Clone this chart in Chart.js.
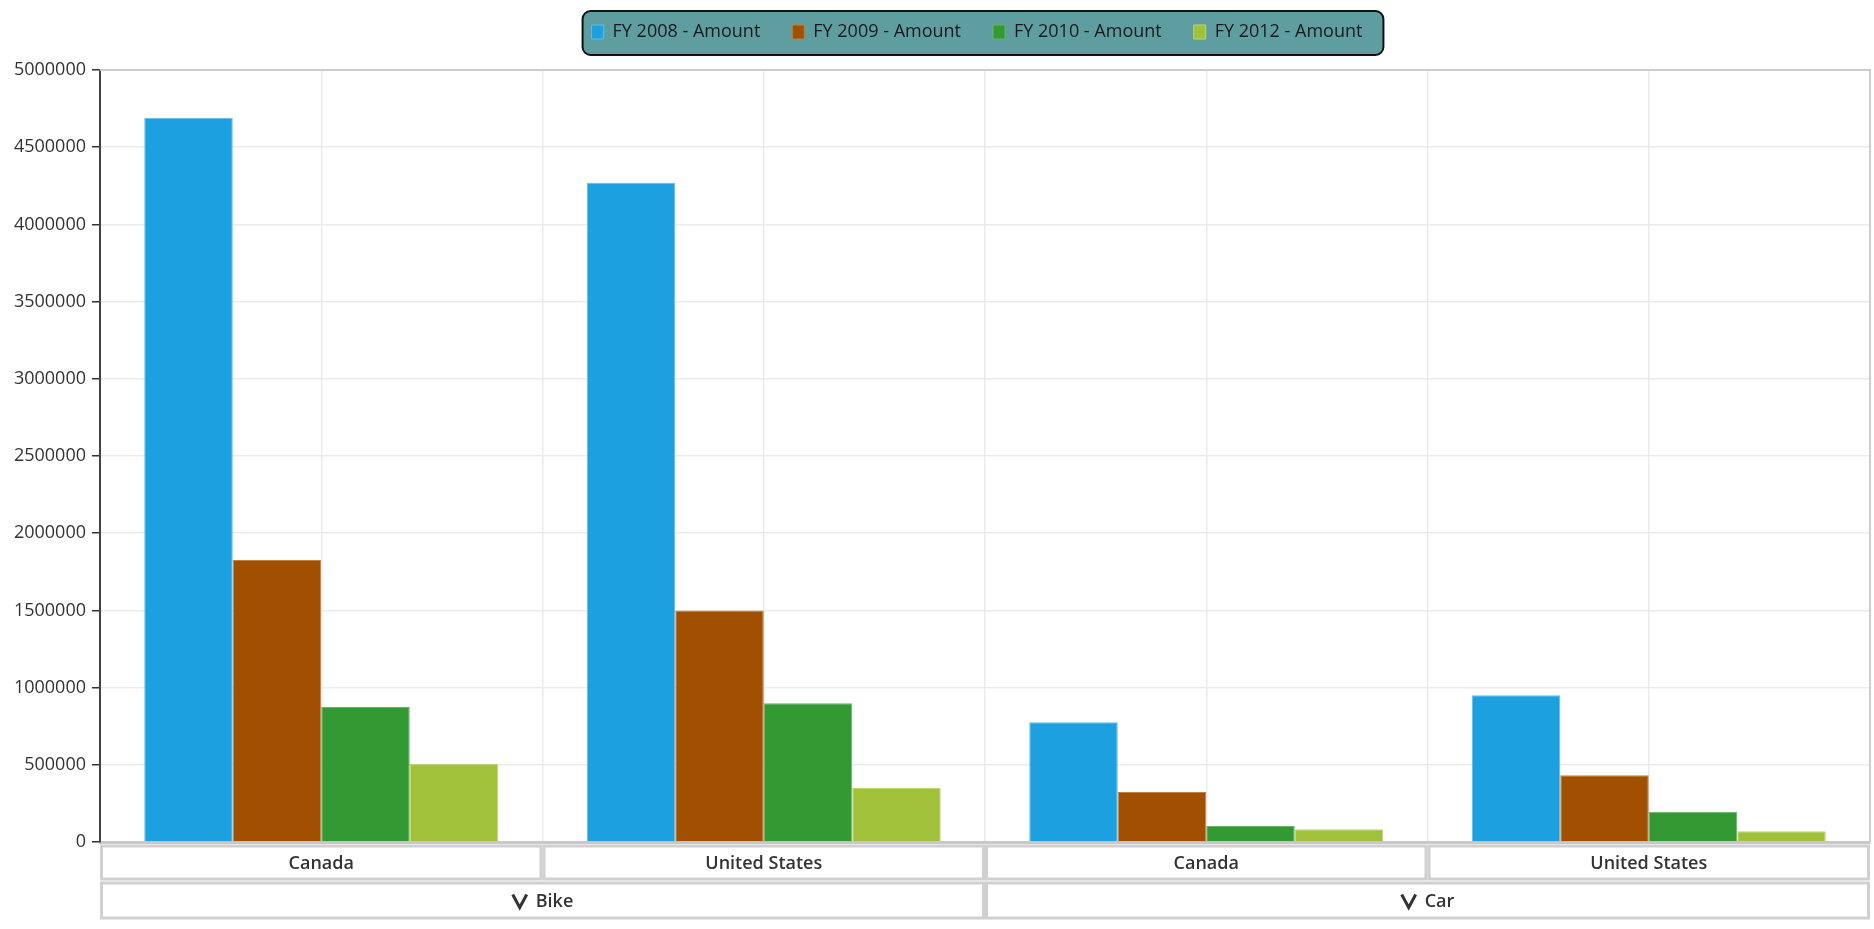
<!DOCTYPE html>
<html>
<head>
<meta charset="utf-8">
<script src="https://cdn.jsdelivr.net/npm/chart.js@4.4.1/dist/chart.umd.min.js"></script>
<style>
    html, body { margin: 0; padding: 0; background: #fff; }
    #wrap { width: 1874px; height: 929px; position: relative; }
</style>
</head>
<body>
<div id="wrap"><canvas id="salesChart"></canvas></div>
<script>
// Chart data
const categories = ['Canada', 'United States', 'Canada', 'United States'];
const groupOf = ['Bike', 'Bike', 'Car', 'Car'];
const seriesNames = ['FY 2008 - Amount', 'FY 2009 - Amount', 'FY 2010 - Amount', 'FY 2012 - Amount'];
const fy2008 = [4690000, 4270000, 776000, 951000];
const fy2009 = [1826000, 1499000, 324000, 432000];
const fy2010 = [875000, 898000, 104000, 196000];
const fy2012 = [506000, 350000, 83000, 70000];
const yTicks = [0, 500000, 1000000, 1500000, 2000000, 2500000, 3000000, 3500000, 4000000, 4500000, 5000000];

const colors = ['#1ca0e0', '#a05000', '#339933', '#a2c13a'];
const edgeColors = ['#5cbcec', '#c08040', '#66b366', '#bcd670'];
const FONT = '"Open Sans", "Noto Sans", sans-serif';

// Legend background box + shift legend over the plot area
const legendBoxPlugin = {
    id: 'legendBox',
    afterLayout(chart) {
        const lg = chart.legend;
        const dx = 42;
        lg.left += dx;
        lg.right += dx;
    },
    beforeDraw(chart) {
        const lg = chart.legend;
        const boxes = lg.legendHitBoxes;
        if (!boxes || !boxes.length) return;
        const first = boxes[0];
        const last = boxes[boxes.length - 1];
        const cy = first.top + first.height / 2 + 1;
        const x0 = first.left - 9;
        const x1 = last.left + last.width + 21;
        const ctx = chart.ctx;
        ctx.save();
        ctx.beginPath();
        ctx.roundRect(x0, cy - 22, x1 - x0, 44, 8);
        ctx.fillStyle = '#5f9ea0';
        ctx.fill();
        ctx.lineWidth = 2;
        ctx.strokeStyle = '#111';
        ctx.stroke();
        ctx.restore();
    }
};

// Plot frame and the two rows of category boxes under the x axis
const categoryBoxPlugin = {
    id: 'categoryBoxes',
    afterDraw(chart) {
        const ctx = chart.ctx;
        const area = chart.chartArea;
        const xs = chart.scales.x;
        const half = (xs.getPixelForValue(1) - xs.getPixelForValue(0)) / 2;

        ctx.save();
        // top / right frame
        ctx.strokeStyle = '#cccccc';
        ctx.lineWidth = 2;
        ctx.beginPath();
        ctx.moveTo(area.left, area.top);
        ctx.lineTo(area.right, area.top);
        ctx.lineTo(area.right, area.bottom);
        ctx.stroke();

        ctx.lineWidth = 3;
        ctx.strokeStyle = '#d0d0d0';
        ctx.fillStyle = '#333';
        ctx.textAlign = 'center';
        ctx.textBaseline = 'middle';
        ctx.font = '600 18px ' + FONT;

        // first row: country
        const r1top = area.bottom + 4, r1h = 33;
        categories.forEach((label, i) => {
            const c = xs.getPixelForValue(i);
            ctx.strokeRect(c - half + 1.5, r1top, half * 2 - 3, r1h);
            ctx.fillText(label, c, r1top + r1h / 2 + 1);
        });

        // second row: product group
        const r2top = r1top + r1h + 4, r2h = 35;
        const groups = [...new Set(groupOf)];
        groups.forEach(g => {
            const idx = groupOf.map((v, i) => v === g ? i : -1).filter(i => i >= 0);
            const left = xs.getPixelForValue(idx[0]) - half;
            const right = xs.getPixelForValue(idx[idx.length - 1]) + half;
            ctx.strokeRect(left + 1.5, r2top, right - left - 3, r2h);
            const tw = ctx.measureText(g).width;
            const chevW = 16, gap = 8;
            const start = (left + right) / 2 - (chevW + gap + tw) / 2;
            const cy = r2top + r2h / 2;
            // chevron
            ctx.beginPath();
            ctx.lineWidth = 3;
            ctx.strokeStyle = '#333';
            ctx.moveTo(start + 1, cy - 6);
            ctx.lineTo(start + chevW / 2, cy + 7);
            ctx.lineTo(start + chevW - 1, cy - 6);
            ctx.stroke();
            ctx.strokeStyle = '#d0d0d0';
            ctx.textAlign = 'left';
            ctx.fillText(g, start + chevW + gap, cy + 1);
            ctx.textAlign = 'center';
        });
        ctx.restore();
    }
};

const datasets = [fy2008, fy2009, fy2010, fy2012].map((vals, i) => ({
    label: seriesNames[i],
    data: vals,
    backgroundColor: colors[i],
    borderColor: edgeColors[i],
    borderWidth: 1,
    categoryPercentage: 0.8,
    barPercentage: 1.0,
    xAxisID: 'x'
}));

const ctx = document.getElementById('salesChart').getContext('2d');
const salesChart = new Chart(ctx, {
    type: 'bar',
    data: {
        labels: categories,
        datasets: datasets
    },
    options: {
        responsive: true,
        maintainAspectRatio: false,
        animation: false,
        layout: {
            padding: { top: -9, left: 0, right: 4, bottom: 87 }
        },
        plugins: {
            legend: {
                position: 'top',
                labels: {
                    boxWidth: 12,
                    boxHeight: 14,
                    padding: 32,
                    color: '#1a1a1a',
                    font: { family: FONT, size: 18 }
                }
            },
            tooltip: { enabled: false }
        },
        scales: {
            x: {
                type: 'category',
                offset: true,
                grid: { offset: true, color: '#ebebeb', lineWidth: 1.5, drawTicks: false },
                border: { color: '#c8c8c8', width: 3 },
                ticks: { display: false }
            },
            x2: {
                type: 'category',
                position: 'top',
                labels: categories,
                offset: true,
                grid: { offset: false, color: '#ebebeb', lineWidth: 1.5, drawTicks: false },
                border: { display: false },
                ticks: { display: false },
                afterFit(scale) { scale.height = 19; }
            },
            y: {
                min: 0,
                max: 5000000,
                afterFit(scale) { scale.width = 100; },
                afterBuildTicks(scale) { scale.ticks = yTicks.map(v => ({ value: v })); },
                grid: { color: '#ebebeb', lineWidth: 1.5, tickColor: '#333', tickLength: 8 },
                border: { color: '#444', width: 2 },
                ticks: {
                    color: '#333',
                    padding: 6,
                    font: { family: FONT, size: 18 },
                    callback: v => String(v)
                }
            }
        }
    },
    plugins: [legendBoxPlugin, categoryBoxPlugin]
});
</script>
</body>
</html>
